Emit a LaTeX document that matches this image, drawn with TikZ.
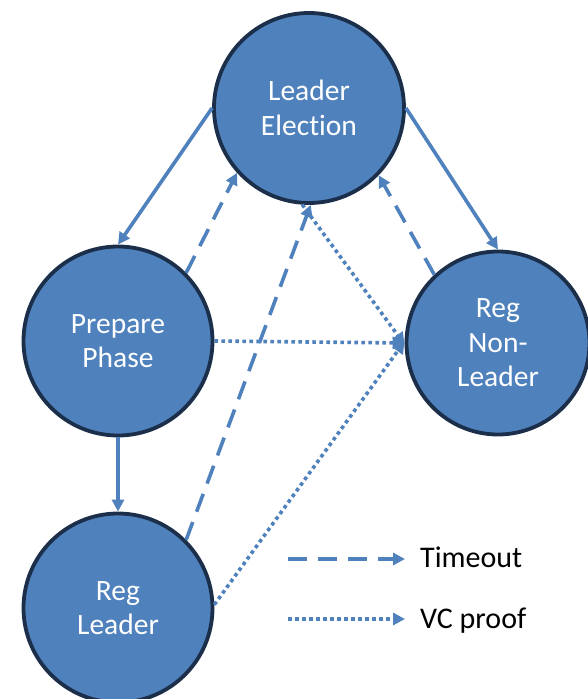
\documentclass[tikz,border=0pt]{standalone}
\usepackage{fontspec}
\setmainfont[RawFeature=-liga]{Carlito}
\usetikzlibrary{arrows.meta}
\definecolor{stateblue}{HTML}{4F81BD}
\definecolor{stateedge}{HTML}{1C2F4A}
\begin{document}
\begin{tikzpicture}[x=1pt,y=-1pt,
  state/.style={circle,draw=stateedge,fill=stateblue,line width=3.8pt,
    inner sep=0pt,text=white,align=center,
    font=\fontsize{29.5pt}{34.5pt}\selectfont},
  link/.style={draw=stateblue,line width=3.6pt,
    -{Triangle[length=12pt,width=12pt]}},
  timeout/.style={link,dash pattern=on 19pt off 11pt},
  vcproof/.style={link,dash pattern=on 3.6pt off 3.4pt},
  legendtext/.style={anchor=base west,inner sep=0pt,
    font=\fontsize{30pt}{34pt}\selectfont}]
  \useasboundingbox (0,0) rectangle (588,699);
  \clip (0,0) rectangle (588,699);

  % states
  \node[state,minimum size=190pt] (le)  at (309,108) {Leader\\Election};
  \node[state,minimum size=189pt] (pp)  at (118,341) {Prepare\\Phase};
  \node[state,minimum size=183pt] (rnl) at (498,343) {Reg\\Non-\\Leader};
  \node[state,minimum size=189pt] (rl)  at (118,608) {Reg\\Leader};

  % normal transitions
  \draw[link] (le.west) -- (pp.north);
  \draw[link] (le.east) -- (rnl.north);
  \draw[link] (pp.south) -- (rl.north);

  % timeouts back to leader election
  \draw[timeout] (pp.45) -- (le.222);
  \draw[timeout] (rl.45) -- (le.271);
  \draw[timeout] (rnl.133) -- (le.316);

  % view-change proofs
  \draw[vcproof] (le.266) -- (rnl.181);
  \draw[vcproof] (pp.east) -- (rnl.west);
  \draw[vcproof] (rl.2) -- (rnl.179);

  % legend
  \coordinate (ta) at (288,559);
  \coordinate (tb) at (405,559);
  \coordinate (va) at (288,619);
  \coordinate (vb) at (405,619);
  \draw[timeout] (ta) -- (tb);
  \draw[vcproof] (va) -- (vb);
  \node[legendtext] (tt) at (420,567) {Timeout};
  \node[legendtext] (vt) at (420,628) {VC proof};
\end{tikzpicture}
\end{document}
